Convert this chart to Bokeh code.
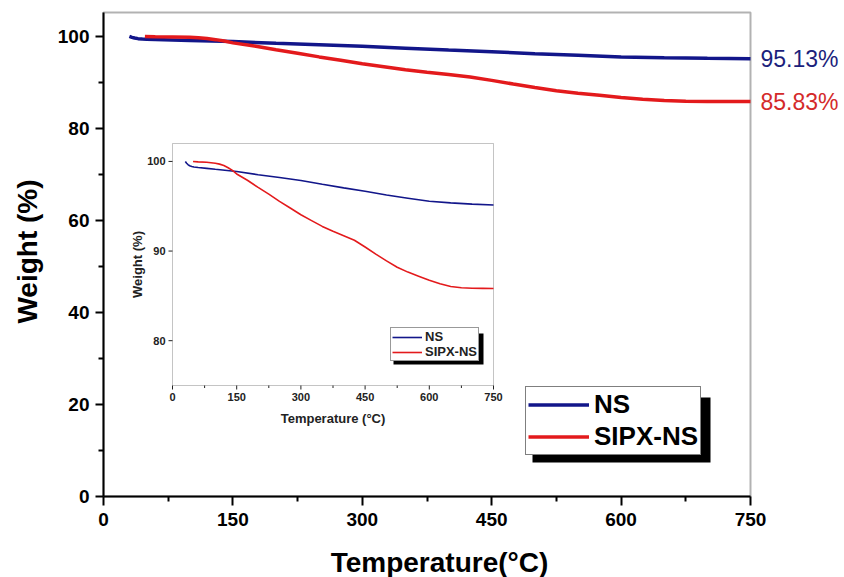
import math
from bokeh.plotting import figure
from bokeh.models import Range1d, FixedTicker, Legend, LegendItem, Label, BoxAnnotation
from bokeh.core.properties import value
from bokeh.embed import file_html
from bokeh.resources import INLINE

# ---------------- data ----------------
series_names = ["NS", "SIPX-NS"]

ns_temp = [30, 33, 36, 40, 45, 50, 60, 80, 100, 150, 200, 250, 300, 350, 400,
           450, 500, 550, 600, 650, 700, 750]
ns_weight = [100.0, 99.8, 99.65, 99.52, 99.44, 99.38, 99.32, 99.22, 99.12, 98.88,
             98.52, 98.2, 97.87, 97.45, 97.05, 96.67, 96.25, 95.9, 95.55, 95.38,
             95.24, 95.13]

sipx_temp = [48, 60, 80, 100, 110, 120, 130, 140, 150, 175, 200, 225, 250, 275,
             300, 325, 350, 375, 400, 425, 450, 475, 500, 525, 550, 575, 600, 625,
             650, 675, 700, 725, 750]
sipx_weight = [100.0, 99.95, 99.9, 99.8, 99.7, 99.55, 99.3, 99.0, 98.6, 97.9,
               97.1, 96.35, 95.55, 94.8, 94.05, 93.4, 92.75, 92.2, 91.7, 91.2,
               90.45, 89.65, 88.9, 88.2, 87.65, 87.2, 86.75, 86.35, 86.05, 85.9,
               85.85, 85.84, 85.83]

main_x_ticks = [0, 150, 300, 450, 600, 750]
main_y_ticks = [0, 20, 40, 60, 80, 100]
inset_x_ticks = [0, 150, 300, 450, 600, 750]
inset_y_ticks = [80, 90, 100]

main_x_lim = (0, 750)
main_y_lim = (0, 105.2)
inset_x_lim = (0, 750)
inset_y_lim = (75, 102)

x_title = "Temperature(\u00b0C)"
y_title = "Weight (%)"
inset_x_title = "Temperature (\u00b0C)"
inset_y_title = "Weight (%)"

# ---------------- styles / layout ----------------
FONT = "Liberation Sans"
NAVY = "#12168a"
RED = "#e31a1c"
NAVY_TXT = "#1c1f7c"
RED_TXT = "#d42a2a"

W, H = 844, 577
BL, BR, BT, BB = 103, 750, 12, 496        # main plot box (px)
IL, IR, IT, IB = 172, 493, 143, 385       # inset box (px)
XLABEL_C = (439, 562)                     # centre of x-axis title (px)
YLABEL_C = (27, 251)                      # centre of y-axis title (px)


def mids(t):
    return [(a + b) / 2 for a, b in zip(t[:-1], t[1:])]


def full_range(lim, lo_px, hi_px, total, flip=False):
    """Range covering the whole canvas so that lim maps onto [lo_px, hi_px]."""
    k = (lim[1] - lim[0]) / (hi_px - lo_px)
    if flip:   # screen y grows downward
        return Range1d(lim[0] - (total - hi_px) * k, lim[1] + lo_px * k)
    return Range1d(lim[0] - lo_px * k, lim[1] + (total - hi_px) * k)


# the frame covers the whole canvas; the axes are drawn at fixed locations
xr = full_range(main_x_lim, BL, BR, W)
yr = full_range(main_y_lim, BT, BB, H, flip=True)
ixr = full_range(inset_x_lim, IL, IR, W)
iyr = full_range(inset_y_lim, IT, IB, H, flip=True)


def mx(px):
    return xr.start + px * (xr.end - xr.start) / W


def my(py):
    return yr.start + (H - py) * (yr.end - yr.start) / H


p = figure(width=W, height=H, output_backend="svg", toolbar_location=None,
           x_range=xr, y_range=yr, min_border=0)
p.extra_x_ranges = {"ix": ixr}
p.extra_y_ranges = {"iy": iyr}

p.background_fill_color = "white"
p.border_fill_color = "white"
p.outline_line_color = None
p.xgrid.visible = False
p.ygrid.visible = False

p.xaxis.ticker = FixedTicker(ticks=main_x_ticks, minor_ticks=mids(main_x_ticks))
p.yaxis.ticker = FixedTicker(ticks=main_y_ticks, minor_ticks=mids(main_y_ticks))
p.xaxis.fixed_location = main_y_lim[0]
p.yaxis.fixed_location = main_x_lim[0]
p.xaxis.bounds = main_x_lim
p.yaxis.bounds = main_y_lim
for ax in (p.xaxis[0], p.yaxis[0]):
    ax.axis_line_width = 2
    ax.axis_line_color = "black"
    ax.major_tick_line_width = 2
    ax.minor_tick_line_width = 2
    ax.major_tick_line_color = "black"
    ax.minor_tick_line_color = "black"
    ax.major_tick_in = 0
    ax.minor_tick_in = 0
    ax.major_label_text_font = FONT
    ax.major_label_text_font_style = "bold"
    ax.major_label_text_font_size = "19px"
    ax.major_label_text_color = "black"
p.xaxis.major_tick_out = 9
p.xaxis.minor_tick_out = 5
p.xaxis.major_label_standoff = 7
p.yaxis.major_tick_out = 8
p.yaxis.minor_tick_out = 5
p.yaxis.major_label_standoff = 6

# axis titles
p.add_layout(Label(x=mx(XLABEL_C[0]), y=my(XLABEL_C[1]), text=x_title,
                   text_align="center", text_baseline="middle", text_font=FONT,
                   text_font_style="bold", text_font_size="28px", text_color="black"))
p.add_layout(Label(x=mx(YLABEL_C[0]), y=my(YLABEL_C[1]), text=y_title, angle=math.pi / 2,
                   text_align="center", text_baseline="middle", text_font=FONT,
                   text_font_style="bold", text_font_size="28px", text_color="black"))

# plot box
p.add_layout(BoxAnnotation(left=main_x_lim[0], right=main_x_lim[1],
                           bottom=main_y_lim[0], top=main_y_lim[1],
                           fill_alpha=0, line_color="black", line_width=2,
                           level="underlay"))

# ---------------- main curves ----------------
r_ns = p.line(ns_temp, ns_weight, line_color=NAVY, line_width=3.5)
r_sx = p.line(sipx_temp, sipx_weight, line_color=RED, line_width=3.5)

p.add_layout(Label(x=main_x_lim[1], y=ns_weight[-1], text=f"{ns_weight[-1]:.2f}%",
                   x_offset=10, text_baseline="middle", text_font=FONT,
                   text_font_size="23px", text_color=NAVY_TXT))
p.add_layout(Label(x=main_x_lim[1], y=sipx_weight[-1], text=f"{sipx_weight[-1]:.2f}%",
                   x_offset=10, text_baseline="middle", text_font=FONT,
                   text_font_size="23px", text_color=RED_TXT))

# main legend with drop shadow
p.add_layout(BoxAnnotation(left=mx(532), right=mx(710), top=my(397), bottom=my(462),
                           fill_color="black", fill_alpha=1, line_alpha=0))
leg = Legend(items=[LegendItem(label=series_names[0], renderers=[r_ns]),
                    LegendItem(label=series_names[1], renderers=[r_sx])],
             location=(525, H - 455), orientation="vertical",
             border_line_color="black", border_line_width=1,
             background_fill_color="white", background_fill_alpha=1,
             label_text_font=FONT, label_text_font_style="bold",
             label_text_font_size="26px", label_text_color="black",
             glyph_width=61, glyph_height=29, label_height=29,
             label_standoff=5, padding=2, spacing=1, margin=0)
p.add_layout(leg)

# ---------------- inset ----------------
R = dict(x_range_name="ix", y_range_name="iy")
p.add_layout(BoxAnnotation(left=inset_x_lim[0], right=inset_x_lim[1],
                           bottom=inset_y_lim[0], top=inset_y_lim[1],
                           fill_color="white", fill_alpha=1,
                           line_color="#3a3a3a", line_width=1, level="underlay", **R))

ri_ns = p.line(ns_temp, ns_weight, line_color=NAVY, line_width=1.6, **R)
ri_sx = p.line(sipx_temp, sipx_weight, line_color=RED, line_width=1.6, **R)

# inset ticks
p.ray(x=inset_x_ticks, y=[inset_y_lim[0]] * len(inset_x_ticks), length=4,
      length_units="screen", angle=-math.pi / 2, line_color="#222", line_width=1, **R)
p.ray(x=mids(inset_x_ticks), y=[inset_y_lim[0]] * (len(inset_x_ticks) - 1), length=2.5,
      length_units="screen", angle=-math.pi / 2, line_color="#222", line_width=1, **R)
p.ray(x=[inset_x_lim[0]] * len(inset_y_ticks), y=inset_y_ticks, length=4,
      length_units="screen", angle=math.pi, line_color="#222", line_width=1, **R)

# inset tick labels
p.text(x=inset_x_ticks, y=[inset_y_lim[0]] * len(inset_x_ticks),
       text=[str(t) for t in inset_x_ticks], y_offset=7,
       text_align="center", text_baseline="top", text_font=value(FONT),
       text_font_style="bold", text_font_size="11px", text_color="#222", **R)
p.text(x=[inset_x_lim[0]] * len(inset_y_ticks), y=inset_y_ticks,
       text=[str(t) for t in inset_y_ticks], x_offset=-7,
       text_align="right", text_baseline="middle", text_font=value(FONT),
       text_font_style="bold", text_font_size="11px", text_color="#222", **R)

# inset axis labels
p.text(x=[sum(inset_x_lim) / 2], y=[inset_y_lim[0]], text=[inset_x_title],
       y_offset=25, text_align="center", text_baseline="top", text_font=value(FONT),
       text_font_style="bold", text_font_size="13px", text_color="#222", **R)
p.text(x=[inset_x_lim[0]], y=[sum(inset_y_lim) / 2], text=[inset_y_title],
       x_offset=-35, angle=math.pi / 2, text_align="center", text_baseline="middle",
       text_font=value(FONT), text_font_style="bold", text_font_size="13px",
       text_color="#222", **R)

# inset legend with shadow
p.add_layout(BoxAnnotation(left=mx(393), right=mx(483), top=my(333), bottom=my(364),
                           fill_color="black", fill_alpha=1, line_alpha=0))
leg2 = Legend(items=[LegendItem(label=series_names[0], renderers=[ri_ns]),
                     LegendItem(label=series_names[1], renderers=[ri_sx])],
              location=(390, H - 361), orientation="vertical",
              border_line_color="#333", border_line_width=1,
              background_fill_color="white", background_fill_alpha=1,
              label_text_font=FONT, label_text_font_style="bold",
              label_text_font_size="13px", label_text_color="#222",
              glyph_width=30, glyph_height=14, label_height=14,
              label_standoff=3, padding=1, spacing=0, margin=0)
p.add_layout(leg2)

open("out.html", "w").write(file_html(p, INLINE))
